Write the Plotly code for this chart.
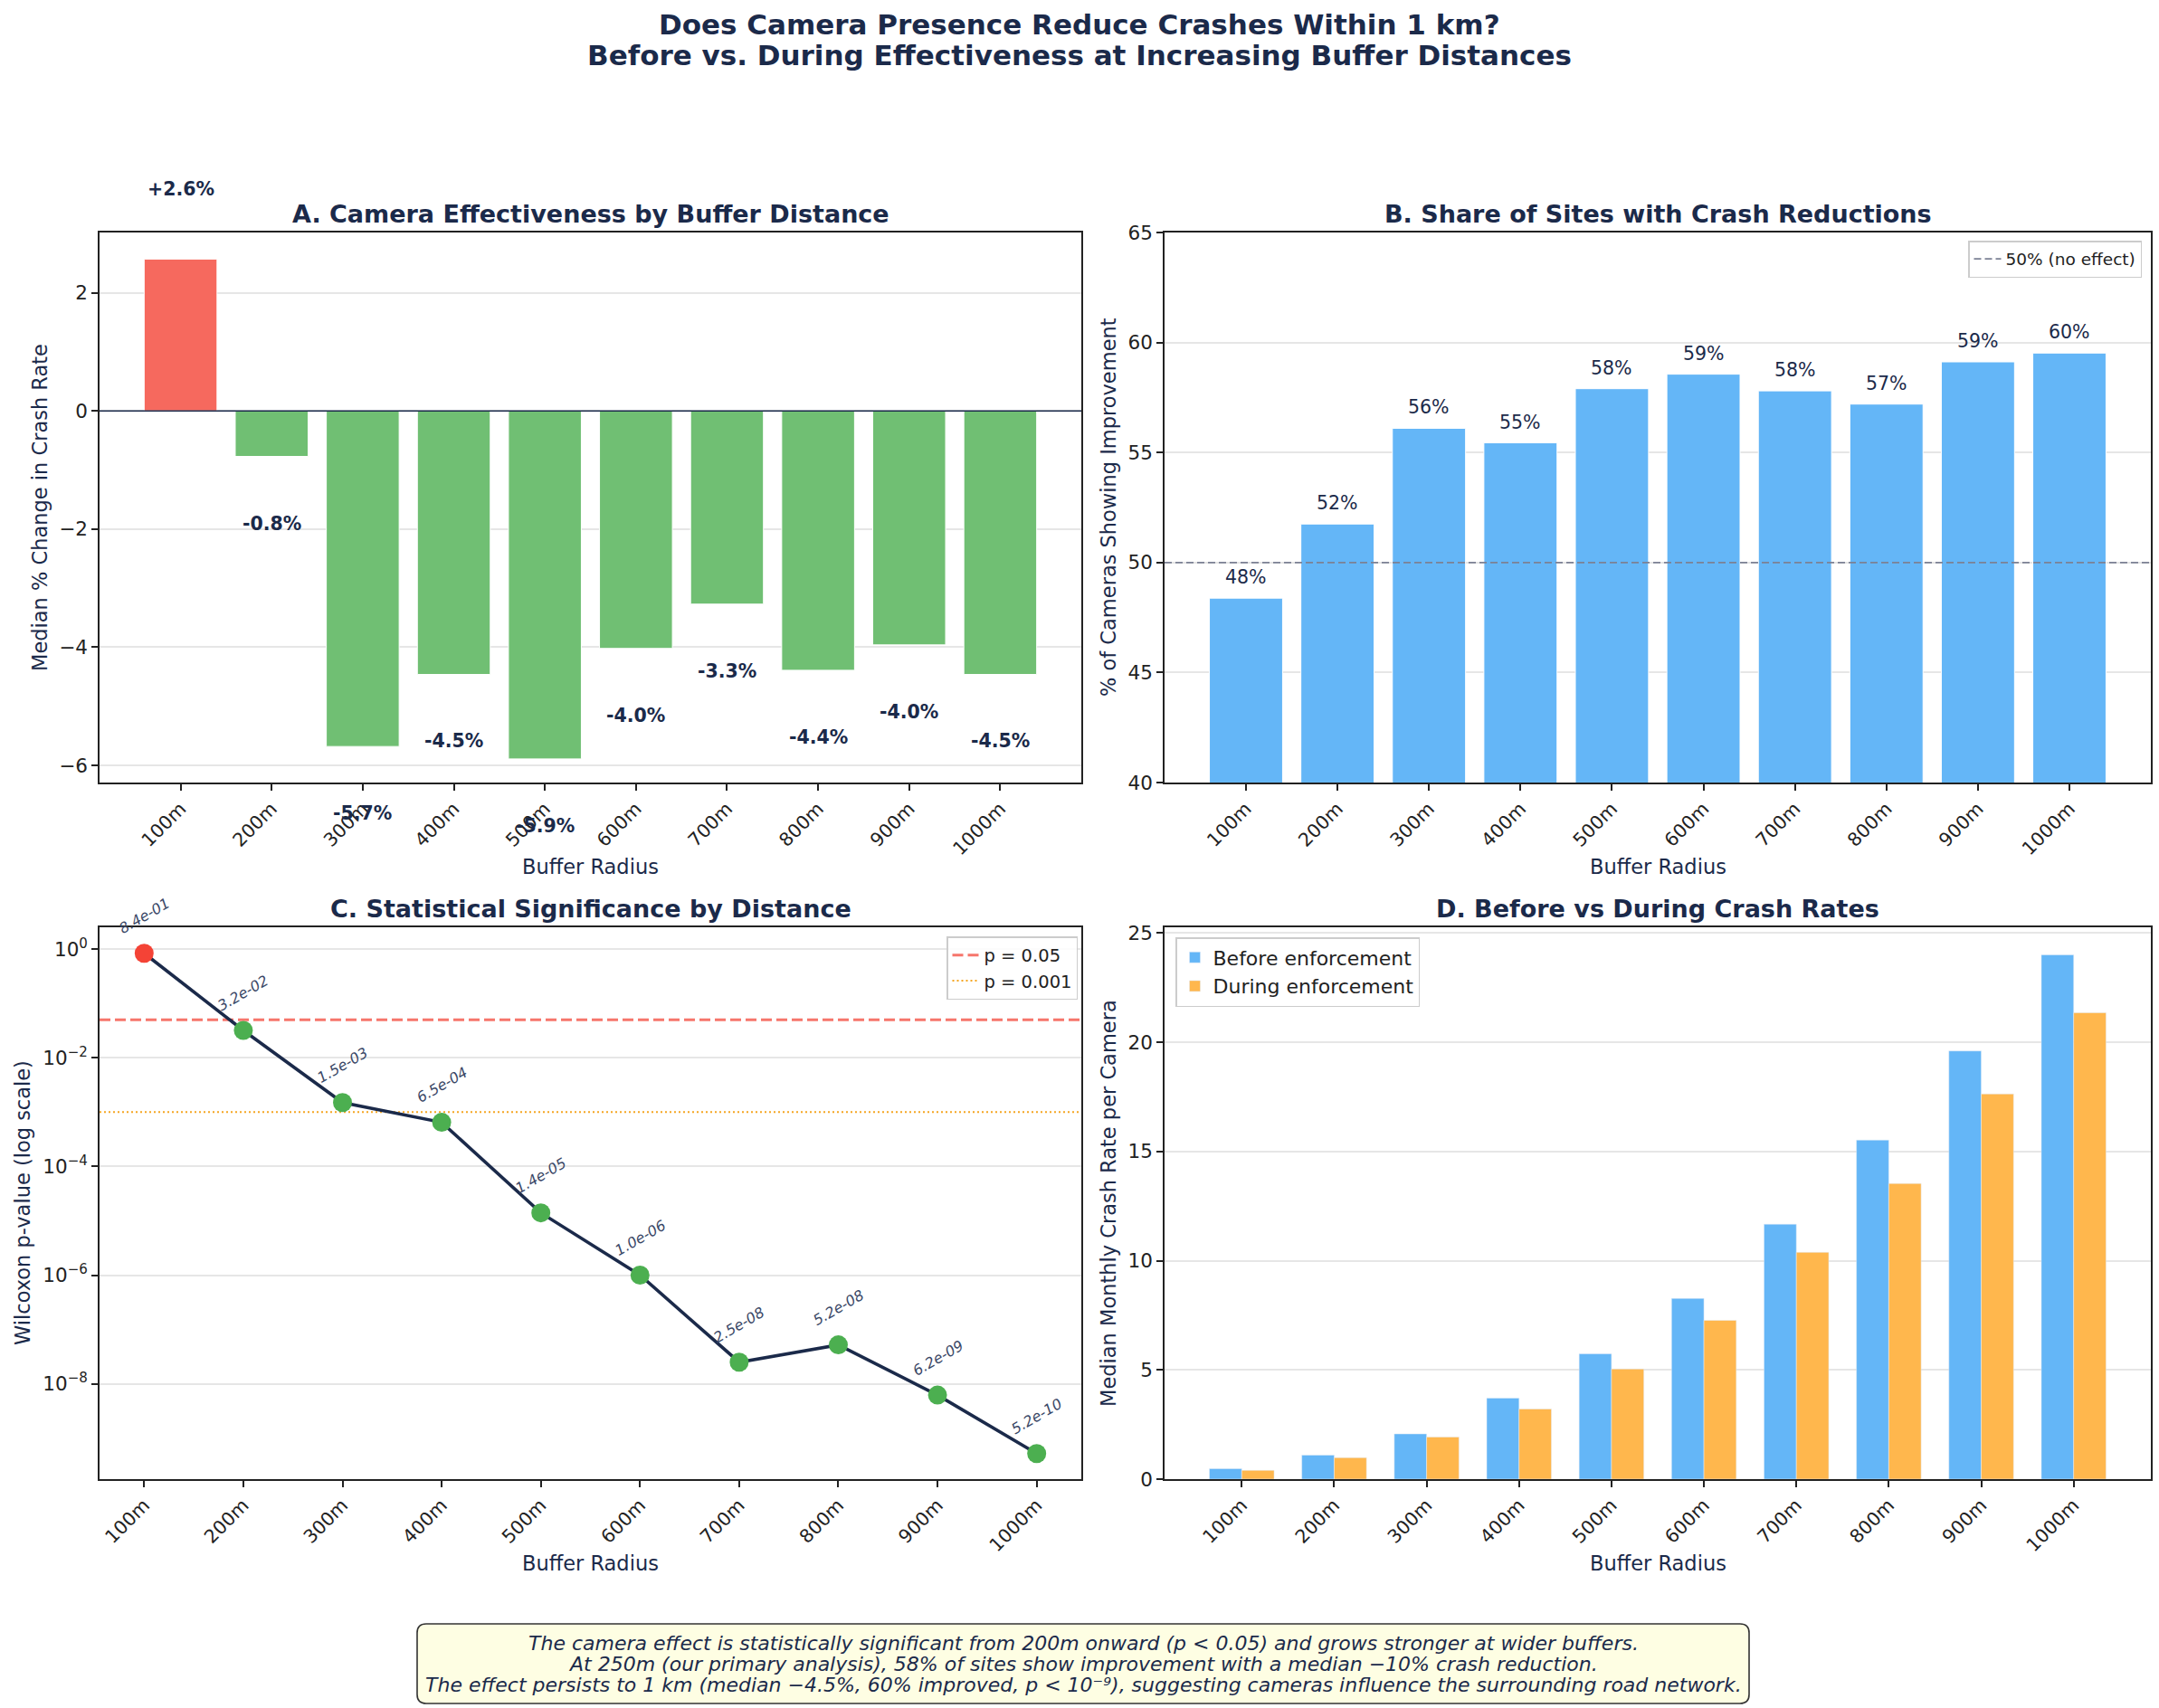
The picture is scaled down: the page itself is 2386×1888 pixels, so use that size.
"""
Camera effectiveness at increasing buffer distances: four-panel dashboard.
"""

import numpy as np
import plotly.graph_objects as go

W, H = 2386, 1888
NAVY = "#1B2A4A"
FONT = "DejaVu Sans"

# ---- data ----
buffers = ["100m", "200m", "300m", "400m", "500m", "600m", "700m", "800m", "900m", "1000m"]
median_change = [2.57, -0.77, -5.68, -4.46, -5.89, -4.02, -3.27, -4.39, -3.96, -4.46]
pct_improved = [48.38, 51.75, 56.1, 55.44, 57.9, 58.56, 57.8, 57.2, 59.12, 59.52]
p_values = [8.4e-01, 3.2e-02, 1.5e-03, 6.5e-04, 1.4e-05, 1.0e-06, 2.5e-08, 5.2e-08, 6.2e-09, 5.2e-10]
rate_before = [0.48, 1.10, 2.07, 3.71, 5.74, 8.27, 11.67, 15.52, 19.6, 24.0]
rate_during = [0.40, 0.98, 1.93, 3.21, 5.04, 7.27, 10.38, 13.53, 17.63, 21.35]
log_tick_vals = [1, 1e-2, 1e-4, 1e-6, 1e-8]
log_tick_text = ["10<sup>0</sup>", "10<sup>−2</sup>", "10<sup>−4</sup>", "10<sup>−6</sup>", "10<sup>−8</sup>"]

title_lines = [
    "Does Camera Presence Reduce Crashes Within 1 km?",
    "Before vs. During Effectiveness at Increasing Buffer Distances",
]
footer_lines = [
    "The camera effect is statistically significant from 200m onward (p &lt; 0.05) "
    "and grows stronger at wider buffers.",
    "At 250m (our primary analysis), 58% of sites show improvement with a median "
    "−10% crash reduction.",
    "The effect persists to 1 km (median −4.5%, 60% improved, p &lt; 10⁻⁹), "
    "suggesting cameras influence the surrounding road network.",
]


def px_x(p):
    return p / W


def px_y(p):
    return 1 - p / H


# panel boxes in pixels: (left, right, top, bottom)
boxes = {
    "A": (110, 1195, 257, 865),
    "B": (1287, 2377, 257, 865),
    "C": (110, 1195, 1025, 1635),
    "D": (1287, 2377, 1025, 1635),
}

fig = go.Figure()

# A. median % change
fig.add_trace(go.Bar(
    x=buffers, y=median_change, width=0.8,
    marker=dict(color=["#F6695E" if v > 0 else "#70BF73" for v in median_change],
                line=dict(color="white", width=1)),
    xaxis="x", yaxis="y", showlegend=False,
))

# B. share improved
fig.add_trace(go.Bar(
    x=buffers, y=pct_improved, width=0.8,
    marker=dict(color="#64B6F7", line=dict(color="white", width=1)),
    xaxis="x2", yaxis="y2", showlegend=False,
))

# C. p-values
fig.add_trace(go.Scatter(
    x=buffers, y=p_values, mode="lines+markers",
    line=dict(color=NAVY, width=3.6),
    marker=dict(size=21, color=["#F44336" if p >= 0.05 else "#4CAF50" for p in p_values]),
    xaxis="x3", yaxis="y3", showlegend=False,
))

# D. before vs during
fig.add_trace(go.Bar(
    x=buffers, y=rate_before, width=0.35, offset=-0.35, name="Before enforcement",
    marker=dict(color="#64B6F7"), xaxis="x4", yaxis="y4", legend="legend3",
))
fig.add_trace(go.Bar(
    x=buffers, y=rate_during, width=0.35, offset=0, name="During enforcement",
    marker=dict(color="#FFB74D"), xaxis="x4", yaxis="y4", legend="legend3",
))

# reference lines
fig.add_shape(type="line", xref="x domain", x0=0, x1=1, yref="y", y0=0, y1=0,
              line=dict(color=NAVY, width=1.6))
fig.add_shape(type="line", xref="x2 domain", x0=0, x1=1, yref="y2", y0=50, y1=50,
              line=dict(color="#7C8194", width=1.8, dash="8px,4px"),
              showlegend=True, name="50% (no effect)", legend="legend")
fig.add_shape(type="line", xref="x3 domain", x0=0, x1=1, yref="y3", y0=0.05, y1=0.05,
              line=dict(color="#F6766C", width=3, dash="12px,5px"), layer="below",
              showlegend=True, name="p = 0.05", legend="legend2")
fig.add_shape(type="line", xref="x3 domain", x0=0, x1=1, yref="y3", y0=0.001, y1=0.001,
              line=dict(color="#F5A623", width=2, dash="2px,3px"), layer="below",
              showlegend=True, name="p = 0.001", legend="legend2")

# footer box with rounded corners (pixel box converted to paper units)
bx0, bx1, by0, by1, rad = 461, 1933, 1795, 1883, 10
rx, ry = rad / W, rad / H
x0, x1, y0, y1 = px_x(bx0), px_x(bx1), px_y(by1), px_y(by0)
fig.add_shape(
    type="path", xref="paper", yref="paper",
    path=(f"M {x0 + rx},{y0} L {x1 - rx},{y0} Q {x1},{y0} {x1},{y0 + ry} "
          f"L {x1},{y1 - ry} Q {x1},{y1} {x1 - rx},{y1} L {x0 + rx},{y1} "
          f"Q {x0},{y1} {x0},{y1 - ry} L {x0},{y0 + ry} Q {x0},{y0} {x0 + rx},{y0} Z"),
    fillcolor="#FEFEE3", line=dict(color="#333333", width=1.6), layer="above",
)

annotations = []

# bar labels in A
for b, v in zip(buffers, median_change):
    annotations.append(dict(
        x=b, y=v, xref="x", yref="y", text=f"<b>{v:+.1f}%</b>", showarrow=False,
        yshift=77 if v > 0 else -74, font=dict(size=20.5, color=NAVY),
    ))

# bar labels in B
for b, v in zip(buffers, pct_improved):
    annotations.append(dict(
        x=b, y=v, xref="x2", yref="y2", text=f"{v:.0f}%", showarrow=False,
        yshift=23, font=dict(size=20.5, color=NAVY),
    ))

# p-value labels in C (annotations on log axes take log10 positions)
for b, p in zip(buffers, p_values):
    annotations.append(dict(
        x=b, y=np.log10(p), xref="x3", yref="y3", text=f"{p:.1e}", showarrow=False,
        yshift=41, textangle=-30, font=dict(size=16, color="#3A4766", style="italic"),
    ))

# subplot titles and axis titles
titles = {
    "A": "A. Camera Effectiveness by Buffer Distance",
    "B": "B. Share of Sites with Crash Reductions",
    "C": "C. Statistical Significance by Distance",
    "D": "D. Before vs During Crash Rates",
}
y_titles = {
    "A": ("Median % Change in Crash Rate", 44),
    "B": ("% of Cameras Showing Improvement", 1225),
    "C": ("Wilcoxon p-value (log scale)", 25),
    "D": ("Median Monthly Crash Rate per Camera", 1225),
}
for key, (l, r, t, btm) in boxes.items():
    cx = (l + r) / 2
    annotations.append(dict(
        x=px_x(cx), y=px_y(t - 21), xref="paper", yref="paper", xanchor="center", yanchor="middle",
        text=f"<b>{titles[key]}</b>", showarrow=False, font=dict(size=27, color=NAVY),
    ))
    annotations.append(dict(
        x=px_x(cx), y=px_y(btm + 93), xref="paper", yref="paper", xanchor="center", yanchor="middle",
        text="Buffer Radius", showarrow=False, font=dict(size=22.5, color=NAVY),
    ))
    ytxt, yx = y_titles[key]
    annotations.append(dict(
        x=px_x(yx), y=px_y((t + btm) / 2), xref="paper", yref="paper", xanchor="center",
        yanchor="middle", text=ytxt, textangle=-90, showarrow=False,
        font=dict(size=22.5, color=NAVY),
    ))

# main title, one annotation per line
for line, ypix in zip(title_lines, [27, 61]):
    annotations.append(dict(
        x=0.5, y=px_y(ypix), xref="paper", yref="paper", xanchor="center", yanchor="middle",
        text=f"<b>{line}</b>", showarrow=False, font=dict(size=31, color=NAVY),
    ))

# footer note lines
for line, ypix in zip(footer_lines, [1816, 1839, 1862]):
    annotations.append(dict(
        x=px_x((bx0 + bx1) / 2), y=px_y(ypix), xref="paper", yref="paper",
        xanchor="center", yanchor="middle", showarrow=False, text=line,
        font=dict(size=22, color=NAVY, style="italic"),
    ))

axis_common = dict(
    showline=True, mirror=True, linecolor="#222222", linewidth=1.6,
    ticks="outside", ticklen=7, tickwidth=1.6, tickcolor="#222222",
    zeroline=False, automargin=False,
)
x_common = dict(axis_common, type="category", tickangle=-45, showgrid=False,
                tickfont=dict(size=20.5, color="#222222"))
y_common = dict(axis_common, showgrid=True, gridcolor="#E6E6E6", gridwidth=1.5,
                tickfont=dict(size=21.5, color="#222222"))


def dom(key):
    l, r, t, btm = boxes[key]
    return [px_x(l), px_x(r)], [px_y(btm), px_y(t)]


xa, ya = dom("A")
xb, yb = dom("B")
xc, yc = dom("C")
xd, yd = dom("D")

legend_box = dict(bgcolor="rgba(255,255,255,0.85)", bordercolor="#CCCCCC", borderwidth=1.5)

fig.update_layout(
    width=W, height=H,
    margin=dict(l=0, r=0, t=0, b=0),
    paper_bgcolor="white", plot_bgcolor="white",
    font=dict(family=FONT, color=NAVY),
    barmode="overlay",
    xaxis=dict(x_common, domain=xa, anchor="y", range=[-0.89, 9.89]),
    yaxis=dict(y_common, domain=ya, anchor="x", range=[-6.29, 3.02], dtick=2),
    xaxis2=dict(x_common, domain=xb, anchor="y2", range=[-0.89, 9.89]),
    yaxis2=dict(y_common, domain=yb, anchor="x2", range=[40, 65], dtick=5),
    xaxis3=dict(x_common, domain=xc, anchor="y3", range=[-0.45, 9.45]),
    yaxis3=dict(y_common, domain=yc, anchor="x3", type="log", range=[-9.755, 0.403],
                tickvals=log_tick_vals, ticktext=log_tick_text),
    xaxis4=dict(x_common, domain=xd, anchor="y4", range=[-0.835, 9.835]),
    yaxis4=dict(y_common, domain=yd, anchor="x4", range=[0, 25.26], dtick=5),
    legend=dict(legend_box, x=px_x(2367), y=px_y(266), xanchor="right", yanchor="top",
                font=dict(size=18.5, color="#222222")),
    legend2=dict(legend_box, x=px_x(1191), y=px_y(1035), xanchor="right", yanchor="top",
                 font=dict(size=19.5, color="#222222")),
    legend3=dict(legend_box, x=px_x(1299), y=px_y(1036), xanchor="left", yanchor="top",
                 font=dict(size=22, color="#222222")),
    annotations=annotations,
)

# the page body has a default 8px margin; drop it so the figure fills the window
fig.write_html(
    "out.html",
    config={"displayModeBar": False},
    post_script="document.body.style.margin = '0px';",
)
